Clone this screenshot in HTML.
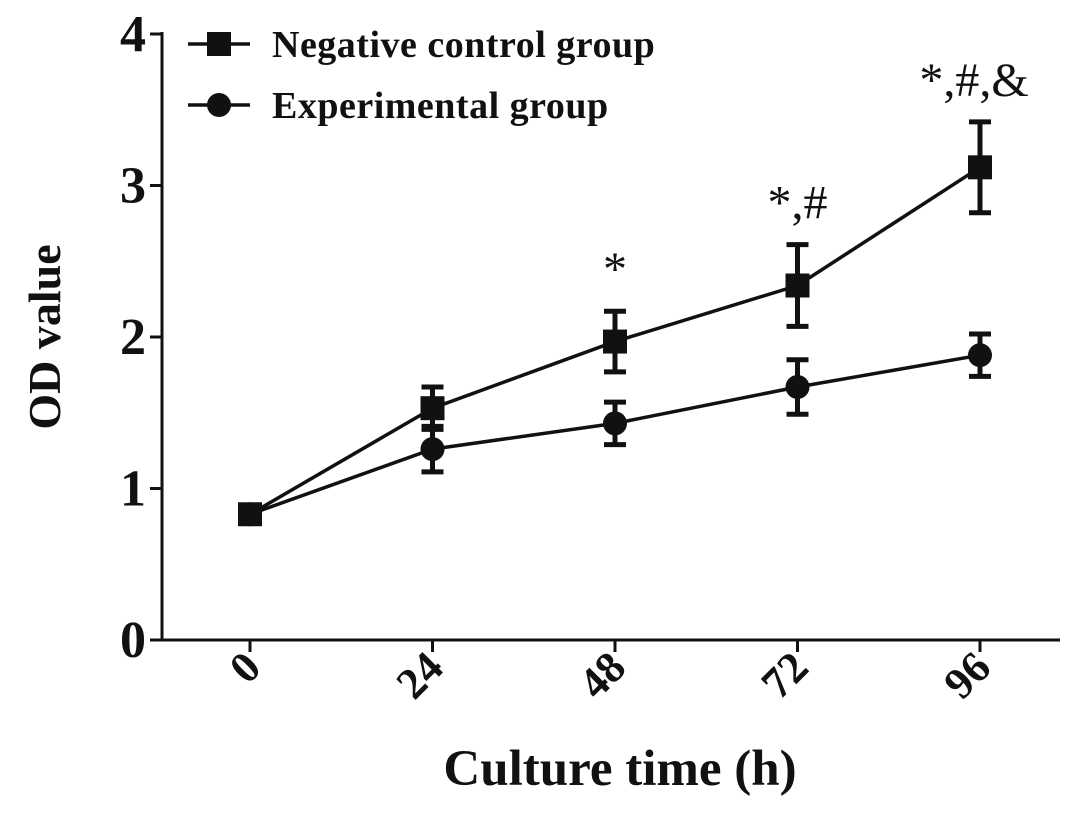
<!DOCTYPE html>
<html><head><meta charset="utf-8"><style>
body{margin:0;background:#fff}
svg text{font-family:"Liberation Serif",serif;fill:#111}
</style></head><body>
<svg id="chart" width="1087" height="831" xmlns="http://www.w3.org/2000/svg"></svg>
<script>
const categories=[0,24,48,72,96];
const controlValues=[0.83,1.53,1.97,2.34,3.12];
const controlErrors=[0.02,0.14,0.2,0.27,0.3];
const expValues=[0.83,1.26,1.43,1.67,1.88];
const expErrors=[0.02,0.15,0.14,0.18,0.14];
const yTicks=[0,1,2,3,4];
const annotations=["","","*","*,#","*,#,&"];
const NS="http://www.w3.org/2000/svg";
const svg=document.getElementById('chart');
const x0=162,xL=250,xStep=182.5,y0=640,yScale=151.5;
const xs=i=>xL+i*xStep;
const ys=v=>y0-v*yScale;
function el(t,a,p){const e=document.createElementNS(NS,t);for(const k in a)e.setAttribute(k,a[k]);(p||svg).appendChild(e);return e;}
let e;
e=el('line',{x1:x0,y1:32,x2:x0,y2:y0+1.5,stroke:'#111','stroke-width':3});


e=el('line',{x1:x0-1.5,y1:y0,x2:1060,y2:y0,stroke:'#111','stroke-width':3});


yTicks.forEach(v=>{
 e=el('line',{x1:x0-12,y1:ys(v),x2:x0,y2:ys(v),stroke:'#111','stroke-width':3});
 
 
 e=el('text',{x:x0-16,y:ys(v)+17,'text-anchor':'end','font-size':52,'font-weight':'bold'});e.textContent=v;
 
 
});
categories.forEach((c,i)=>{
 e=el('line',{x1:xs(i),y1:y0,x2:xs(i),y2:y0+12,stroke:'#111','stroke-width':3});
 
 
 e=el('text',{x:0,y:0,'text-anchor':'end','font-size':44,'font-weight':'bold',transform:`translate(${xs(i)+13},${y0+30}) rotate(-45)`});e.textContent=c;
 
 
});
e=el('text',{x:0,y:0,'text-anchor':'middle','font-size':46,'font-weight':'bold',transform:'translate(60,337) rotate(-90)'});e.textContent='OD value';


e=el('text',{x:620,y:785,'text-anchor':'middle','font-size':51,'font-weight':'bold'});e.textContent='Culture time (h)';


function series(vals,errs,shape,name){
 const g=el('g',{});
 
 
 e=el('polyline',{points:vals.map((v,i)=>xs(i)+','+ys(v)).join(' '),fill:'none',stroke:'#111','stroke-width':3.5},g);
 
 
 vals.forEach((v,i)=>{
  const x=xs(i),t=ys(v+errs[i]),b=ys(v-errs[i]);
  e=el('path',{d:`M${x},${t}V${b}M${x-11},${t}H${x+11}M${x-11},${b}H${x+11}`,stroke:'#111','stroke-width':5,fill:'none'},g);
  
  
  if(shape==='square')e=el('rect',{x:x-12,y:ys(v)-12,width:24,height:24,fill:'#111'},g);
  else e=el('circle',{cx:x,cy:ys(v),r:12,fill:'#111'},g);
  
  
 });
}
series(expValues,expErrors,'circle','experimental-series');
series(controlValues,controlErrors,'square','control-series');
annotations.forEach((a,i)=>{
 if(!a)return;
 e=el('text',{x:xs(i)-(a.length>3?6:0),y:ys(controlValues[i]+controlErrors[i])-26,'text-anchor':'middle','font-size':48});e.textContent=a;
 
 
});
const lg=el('g',{});


e=el('line',{x1:188,y1:44,x2:250,y2:44,stroke:'#111','stroke-width':3.5},lg);
e=el('rect',{x:207,y:32,width:24,height:24,fill:'#111'},lg);
e=el('text',{x:272,y:57,'font-size':38,'font-weight':'bold','letter-spacing':'0.5'},lg);e.textContent='Negative control group';


e=el('line',{x1:188,y1:105,x2:250,y2:105,stroke:'#111','stroke-width':3.5},lg);
e=el('circle',{cx:219,cy:105,r:12,fill:'#111'},lg);
e=el('text',{x:272,y:118,'font-size':38,'font-weight':'bold','letter-spacing':'0.5'},lg);e.textContent='Experimental group';


</script>
</body></html>
